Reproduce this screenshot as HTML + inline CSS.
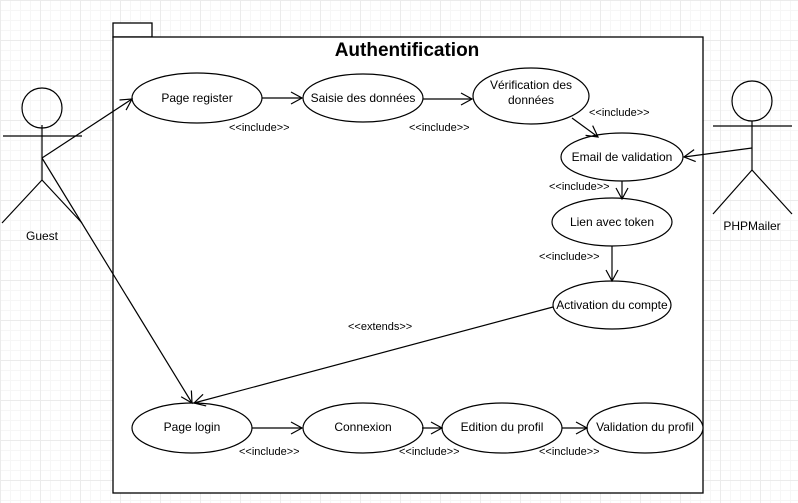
<!DOCTYPE html>
<html><head><meta charset="utf-8"><style>
html,body{margin:0;padding:0;}
body{width:798px;height:503px;overflow:hidden;background:#fff;
background-image:linear-gradient(#ebebeb 1px,transparent 1px),linear-gradient(90deg,#ebebeb 1px,transparent 1px),linear-gradient(#f6f6f6 1px,transparent 1px),linear-gradient(90deg,#f6f6f6 1px,transparent 1px);
background-size:40px 40px,40px 40px,10px 10px,10px 10px;}
svg{position:absolute;left:0;top:0;}
text{font-family:"Liberation Sans",sans-serif;font-size:12px;fill:#000;}
</style></head><body>
<svg width="798" height="503" viewBox="0 0 798 503">
<defs><marker id="a" markerWidth="14" markerHeight="14" refX="12" refY="7" orient="auto" markerUnits="userSpaceOnUse"><path d="M1,1 L12,7 L1,13" fill="none" stroke="#000" stroke-width="1.2"/></marker></defs>
<g fill="#fff" stroke="#000" stroke-width="1.3">
<rect x="113" y="23" width="39" height="14"/>
<rect x="113" y="37" width="590" height="456"/>
</g>
<text x="407" y="56" text-anchor="middle" style="font-size:19px;font-weight:bold">Authentification</text>
<g fill="#fff" stroke="#000" stroke-width="1.2">
<ellipse cx="197" cy="98" rx="65" ry="25"/>
<ellipse cx="363" cy="98" rx="60" ry="24"/>
<ellipse cx="531" cy="96" rx="58" ry="28"/>
<ellipse cx="622" cy="157" rx="61" ry="24"/>
<ellipse cx="612" cy="222" rx="60" ry="24"/>
<ellipse cx="612" cy="305" rx="59" ry="24"/>
<ellipse cx="192" cy="428" rx="60" ry="25"/>
<ellipse cx="363" cy="428" rx="60" ry="25"/>
<ellipse cx="502" cy="428" rx="60" ry="25"/>
<ellipse cx="645" cy="428" rx="58" ry="25"/>
</g>
<g stroke="#000" stroke-width="1.2" fill="none" marker-end="url(#a)">
<line x1="262" y1="98" x2="302" y2="98"/>
<line x1="423" y1="99" x2="472" y2="99"/>
<line x1="572" y1="118" x2="598" y2="137"/>
<line x1="622" y1="181" x2="622" y2="199"/>
<line x1="612" y1="246" x2="612" y2="281"/>
<line x1="252" y1="428" x2="302" y2="428"/>
<line x1="422" y1="428" x2="442" y2="428"/>
<line x1="562" y1="428" x2="587" y2="428"/>
<line x1="42" y1="158" x2="132" y2="99"/>
<line x1="42" y1="158" x2="192" y2="403"/>
<line x1="752" y1="148" x2="684" y2="157"/>
<line x1="553" y1="307" x2="194" y2="403"/>
</g>
<g stroke="#000" stroke-width="1.2" fill="none">
<circle cx="42" cy="108" r="20"/>
<line x1="3" y1="136" x2="82" y2="136"/>
<line x1="42" y1="125" x2="42" y2="180"/>
<line x1="42" y1="180" x2="2" y2="223"/>
<line x1="42" y1="180" x2="82" y2="223"/>
<circle cx="752" cy="101" r="20"/>
<line x1="713" y1="126" x2="792" y2="126"/>
<line x1="752" y1="121" x2="752" y2="170"/>
<line x1="752" y1="170" x2="713" y2="214"/>
<line x1="752" y1="170" x2="792" y2="214"/>
</g>
<g text-anchor="middle">
<text x="197" y="102">Page register</text>
<text x="363" y="102">Saisie des données</text>
<text x="531" y="89">Vérification des</text>
<text x="531" y="104">données</text>
<text x="622" y="161">Email de validation</text>
<text x="612" y="226">Lien avec token</text>
<text x="612" y="309">Activation du compte</text>
<text x="192" y="431">Page login</text>
<text x="363" y="431">Connexion</text>
<text x="502" y="431">Edition du profil</text>
<text x="645" y="431">Validation du profil</text>
<text x="42" y="240">Guest</text>
<text x="752" y="230">PHPMailer</text>
</g>
<g style="font-size:11px">
<text x="229" y="131" style="font-size:11px">&lt;&lt;include&gt;&gt;</text>
<text x="409" y="131" style="font-size:11px">&lt;&lt;include&gt;&gt;</text>
<text x="589" y="116" style="font-size:11px">&lt;&lt;include&gt;&gt;</text>
<text x="549" y="190" style="font-size:11px">&lt;&lt;include&gt;&gt;</text>
<text x="539" y="260" style="font-size:11px">&lt;&lt;include&gt;&gt;</text>
<text x="348" y="330" style="font-size:11px">&lt;&lt;extends&gt;&gt;</text>
<text x="239" y="455" style="font-size:11px">&lt;&lt;include&gt;&gt;</text>
<text x="399" y="455" style="font-size:11px">&lt;&lt;include&gt;&gt;</text>
<text x="539" y="455" style="font-size:11px">&lt;&lt;include&gt;&gt;</text>
</g>
</svg>
</body></html>
